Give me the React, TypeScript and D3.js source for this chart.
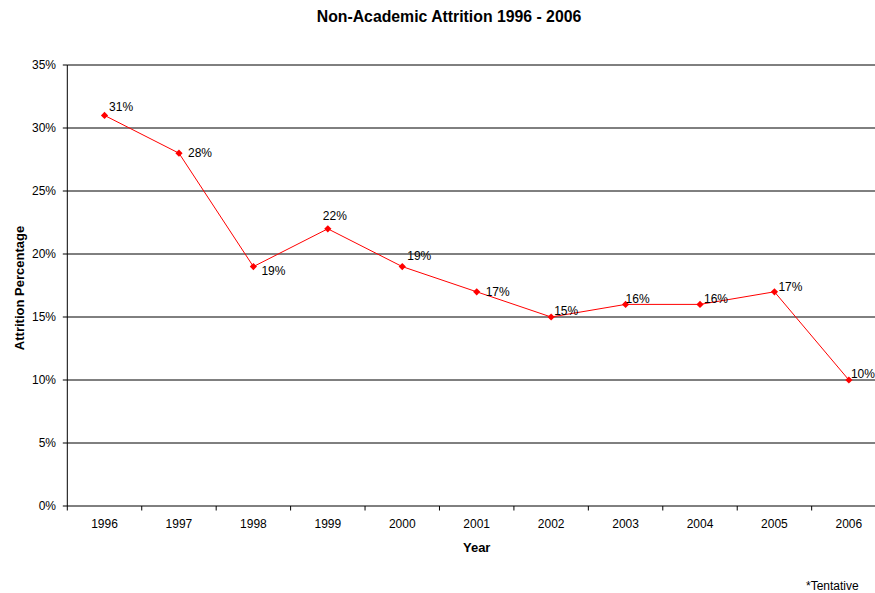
import React from "react";
import * as d3 from "d3";

const years = ["1996", "1997", "1998", "1999", "2000", "2001", "2002", "2003", "2004", "2005", "2006"];
const attrition = [31, 28, 19, 22, 19, 17, 15, 16, 16, 17, 10];
const yTicks = [0, 5, 10, 15, 20, 25, 30, 35];

// label placement (style): [dx, dy] from point to text start / baseline
const labelNudges: [number, number][] = [
  [4.5, -4], [9, 4], [8, 8], [-5, -9], [5, -7], [9, 4], [3, -2], [0, -1.5], [4, -1], [4, -1], [2, -2],
];

const W = 875;
const H = 593;
const left = 67.3;
const right = 886.1;
const top = 65;
const bottom = 506;
const font = "Liberation Sans, Arial, sans-serif";

export default function App() {
  const x = d3.scaleBand<string>().domain(years).range([left, right]).padding(0);
  const y = d3.scaleLinear().domain([0, 35]).range([bottom, top]);
  const cx = (yr: string) => (x(yr) as number) + x.bandwidth() / 2;

  const line = d3
    .line<number>()
    .x((_, i) => cx(years[i]))
    .y((v) => y(v));

  const marker = d3.symbol().type(d3.symbolSquare).size(26)();

  const tickXs = years.map((yr) => x(yr) as number).concat([right]);

  return (
    <svg width={W} height={H} style={{ position: "absolute", left: 0, top: 0 }} fontFamily={font}>
      <rect width={W} height={H} fill="#fff" />
      <text x={449} y={21.5} textAnchor="middle" fontSize={15.8} fontWeight="bold">
        Non-Academic Attrition 1996 - 2006
      </text>
      {yTicks.map((t) => (
        <g key={t}>
          {t > 0 && <line x1={left} x2={right} y1={y(t)} y2={y(t)} stroke="#000" strokeWidth={1} />}
          <line x1={left - 4.5} x2={left} y1={y(t)} y2={y(t)} stroke="#000" />
          <text x={56} y={y(t) + 4.3} textAnchor="end" fontSize={12}>
            {t}%
          </text>
        </g>
      ))}
      <line x1={left} x2={left} y1={top} y2={bottom} stroke="#000" />
      <line x1={left} x2={right} y1={bottom} y2={bottom} stroke="#000" />
      {tickXs.map((tx, i) => (
        <line key={i} x1={tx} x2={tx} y1={bottom} y2={bottom + 4.5} stroke="#000" />
      ))}
      {years.map((yr) => (
        <text key={yr} x={cx(yr)} y={528} textAnchor="middle" fontSize={12}>
          {yr}
        </text>
      ))}
      <text x={476.7} y={551.5} textAnchor="middle" fontSize={13} fontWeight="bold">
        Year
      </text>
      <text
        transform={`translate(23.5,${(top + bottom) / 2 + 2.5}) rotate(-90)`}
        textAnchor="middle"
        fontSize={13}
        fontWeight="bold"
      >
        Attrition Percentage
      </text>
      <path d={line(attrition) as string} fill="none" stroke="#ff0000" strokeWidth={1} />
      {attrition.map((v, i) => (
        <path
          key={i}
          d={marker as string}
          transform={`translate(${cx(years[i])},${y(v)}) rotate(45)`}
          fill="#ff0000"
        />
      ))}
      {attrition.map((v, i) => (
        <text
          key={"l" + i}
          x={cx(years[i]) + labelNudges[i][0]}
          y={y(v) + labelNudges[i][1]}
          fontSize={12}
        >
          {v}%
        </text>
      ))}
      <text x={806} y={589.5} fontSize={12}>
        *Tentative
      </text>
    </svg>
  );
}
